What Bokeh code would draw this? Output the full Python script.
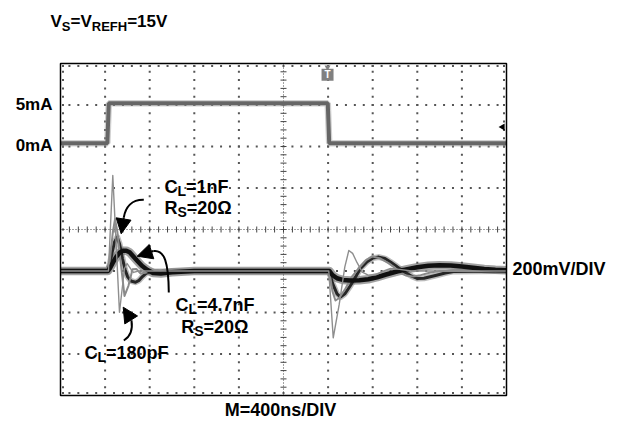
import numpy as np
from bokeh.plotting import figure
from bokeh.models import Range1d, Label, Arrow, NormalHead
from bokeh.embed import file_html
from bokeh.resources import INLINE

# ---------------- data ----------------
# time in ns (400 ns/div, 10 div), output voltage in mV relative to its settled level (200 mV/div)
cur_t = [0, 420, 433, 2397, 2410, 4000]
cur_ma = [0.4, 0.4, 5.2, 5.2, 0.4, 0.4]

# C_L = 180 pF (thin, light trace)
a_t = [0, 430, 469, 529, 574, 598, 630, 655, 700, 2400, 2406, 2446, 2500, 2550, 2586, 2620,
       2660, 2706, 2760, 2830, 2900, 2960, 3040, 3150, 4000]
a_mv = [0, 0, 460, -199, 12, 36, 10, -7, 0, 0, 0, -322, -160, 20, 99, 85,
        40, -5, -20, -18, 0, 12, 8, 0, 0]

# intermediate trace
d_t = [0, 430, 448, 470, 489, 510, 540, 574, 610, 646, 680, 718, 760, 820, 2400,
       2410, 2440, 2466, 2500, 2556, 2610, 2673, 2740, 2798, 2870, 2942, 3000, 3049, 3100,
       3157, 3230, 3318, 3400, 4000]
d_mv = [0, 0, 80, 190, 250, 190, 40, -120, -70, 8, 10, -12, -8, 0, 0,
        0, -100, -142, -130, -84, -30, 12, 52, 70, 60, 38, 15, -10, -22,
        -27, -20, -7, 0, 0]

# C_L = 1 nF, R_S = 20 ohm
b_t = [0, 428, 445, 465, 485, 509, 530, 556, 580, 601, 630, 673, 705, 735, 770, 807, 2400,
       2408, 2440, 2480, 2511, 2550, 2601, 2650, 2691, 2750, 2800, 2855, 2910, 2960, 3004,
       3050, 3094, 3150, 3199, 3260, 3363, 3450, 3525, 4000]
b_mv = [0, 0, 40, 95, 140, 163, 130, 60, 5, -27, -48, -54, -45, -27, -10, -2, 0,
        0, -60, -110, -126, -110, -70, -25, 12, 45, 62, 67, 60, 43, 27,
        8, -7, -25, -36, -35, -22, -10, -2, 0]

# C_L = 4.7 nF, R_S = 20 ohm
c_t = [0, 425, 445, 470, 500, 530, 560, 590, 620, 650, 690, 730, 780, 830, 900, 1000, 1200, 2400,
       2412, 2440, 2480, 2530, 2600, 2680, 2760, 2840, 2920, 3000, 3100, 3200, 3300, 3400,
       3500, 3600, 3700, 3800, 3900, 4000]
c_mv = [0, 0, 15, 40, 68, 88, 98, 98, 90, 72, 48, 25, 5, -10, -12, -6, 0, 0,
        0, -20, -35, -43, -46, -45, -40, -30, -17, -5, 8, 18, 25, 28,
        27, 22, 16, 10, 6, 4]

cur_ticks = [0, 5]
cur_tick_labels = ["0mA", "5mA"]

# scope settings
NS_PER_DIV = 400
MV_PER_DIV = 200
MA_PER_DIV = 5
N_DIV_X, N_DIV_Y = 10, 8
CUR_ZERO_DIV = 2     # 0 mA reference line (divisions above centre)
VOLT_ZERO_DIV = -1   # output reference line

# ---------------- geometry (canvas pixels) ----------------
FONT = "Liberation Sans"
CW, CH = 620, 419
GX0, GX1 = 60, 506      # graticule left/right
GY_C = 229              # graticule centre line
PX_DIV_X = (GX1 - GX0) / N_DIV_X
PX_DIV_Y = 41.5
NS_PER_PX = NS_PER_DIV / PX_DIV_X
TEXT_LIFT = 6.5         # correction for label baseline placement

x_lo = -GX0 * NS_PER_PX
x_hi = (CW - GX0) * NS_PER_PX
y_hi = GY_C / PX_DIV_Y
y_lo = -(CH - GY_C) / PX_DIV_Y

p = figure(frame_width=CW, frame_height=CH, min_border=0,
           x_range=Range1d(x_lo, x_hi), y_range=Range1d(y_lo, y_hi),
           x_axis_type=None, y_axis_type=None,
           output_backend="svg", toolbar_location=None,
           background_fill_color="white", border_fill_color="white")
p.outline_line_color = None
p.extra_y_ranges = {
    "current": Range1d((y_lo - CUR_ZERO_DIV) * MA_PER_DIV, (y_hi - CUR_ZERO_DIV) * MA_PER_DIV),
    "volt": Range1d((y_lo - VOLT_ZERO_DIV) * MV_PER_DIV, (y_hi - VOLT_ZERO_DIV) * MV_PER_DIV),
}

X_END = N_DIV_X * NS_PER_DIV
Y_HALF = N_DIV_Y / 2

# ---------------- graticule ----------------
minor_x = np.arange(0, X_END + 1, NS_PER_DIV / 5)
minor_y = np.arange(-Y_HALF, Y_HALF + 0.0001, 0.2)
ex = 2.5 * NS_PER_PX
ey = 2.5 / PX_DIV_Y
gx, gy = [], []
for yv in range(-4, 5):
    if yv == 0:
        continue
    yy = yv - np.sign(yv) * ey if abs(yv) == Y_HALF else yv
    for xv in minor_x:
        gx.append(min(max(xv, ex), X_END - ex)); gy.append(yy)
for k in range(0, N_DIV_X + 1):
    if k == N_DIV_X // 2:
        continue
    xv = k * NS_PER_DIV
    xx = ex if k == 0 else (X_END - ex if k == N_DIV_X else xv)
    for yv in minor_y:
        gx.append(xx); gy.append(min(max(yv, -Y_HALF + ey), Y_HALF - ey))
p.scatter(gx, gy, marker="square", size=2, fill_color="#555555", line_color=None)

p.segment(x0=[0], y0=[0], x1=[X_END], y1=[0], line_color="#444444", line_width=1, line_dash="1 2")
p.segment(x0=[X_END / 2], y0=[-Y_HALF], x1=[X_END / 2], y1=[Y_HALF], line_color="#444444",
          line_width=1, line_dash="1 2")
p.scatter(minor_x, np.zeros_like(minor_x), marker="dash", angle=np.pi / 2, size=6,
          line_color="#444444", line_width=1)
p.scatter(np.full_like(minor_y, X_END / 2), minor_y, marker="dash", size=6,
          line_color="#444444", line_width=1)

# trigger markers
TRIG_NS = 2395
p.scatter([TRIG_NS], [3.91], marker="inverted_triangle", size=6, fill_color="#808080", line_color=None)
p.scatter([TRIG_NS], [3.73], marker="square", size=12, fill_color="#808080", line_color=None)
p.add_layout(Label(x=TRIG_NS, y=3.73, text="T", text_font=FONT, text_font_style="bold",
                   text_font_size="10px", text_color="white", text_align="center",
                   text_baseline="middle"))
p.scatter([3965], [2.47], marker="triangle", angle=np.pi / 2, size=7, fill_color="black",
          line_color=None)

# ---------------- traces ----------------
p.line(cur_t, cur_ma, y_range_name="current", line_color="#9a9a9a", line_width=6.5, line_alpha=0.45)
p.line(cur_t, cur_ma, y_range_name="current", line_color="#666666", line_width=4)

p.line(c_t, c_mv, y_range_name="volt", line_color="#555555", line_width=8.5, line_alpha=0.55, line_join="round")
p.line(b_t, b_mv, y_range_name="volt", line_color="#777777", line_width=6, line_alpha=0.5, line_join="round")
p.line(b_t, b_mv, y_range_name="volt", line_color="#262626", line_width=3, line_join="round")
p.line(d_t, d_mv, y_range_name="volt", line_color="#8a8a8a", line_width=2, line_join="round")
p.line(c_t, c_mv, y_range_name="volt", line_color="#101010", line_width=4.5, line_join="round")
p.line(a_t, a_mv, y_range_name="volt", line_color="#8e8e8e", line_width=1.4, line_join="round")

# graticule border
p.quad(left=[0], right=[X_END], bottom=[-Y_HALF], top=[Y_HALF], fill_color=None,
       line_color="black", line_width=1.5)

# ---------------- texts ----------------
W = {'V': 667, 'S': 667, '=': 584, 'R': 722, 'E': 667, 'F': 611, 'H': 722, '1': 556, '5': 556,
     'C': 722, 'L': 611, 'n': 611, '4': 556, '.': 278, '7': 556, '2': 556, '0': 556, '8': 556,
     'p': 611, 'Ω': 760}


def px_x(px):
    return (px - GX0) * NS_PER_PX


def px_y(py):
    return (GY_C - py) / PX_DIV_Y


def txt(text, x, y, size, align="left"):
    p.add_layout(Label(x=x, y=y + TEXT_LIFT / PX_DIV_Y, text=text, text_font=FONT,
                       text_font_style="bold", text_font_size=f"{size}px", text_color="black",
                       text_align=align, text_baseline="alphabetic"))


def rich(parts, x, y, size, sub_size, drop):
    off = 0.0
    for t, s in parts:
        fs = sub_size if s else size
        yy = y + (TEXT_LIFT - (drop if s else 0)) / PX_DIV_Y
        p.add_layout(Label(x=x, y=yy, x_offset=off, text=t,
                           text_font=FONT, text_font_style="bold", text_font_size=f"{fs}px",
                           text_color="black", text_align="left", text_baseline="alphabetic"))
        off += sum(W.get(ch, 600) for ch in t) / 1000.0 * fs


# current scale labels at the left of the graticule
for v, lab in zip(cur_ticks, cur_tick_labels):
    p.add_layout(Label(x=px_x(52), y=v, y_offset=-5.5 + TEXT_LIFT, text=lab, text_font=FONT,
                       text_font_style="bold", text_font_size="17px", text_color="black",
                       text_align="right", text_baseline="alphabetic", y_range_name="current"))

rich([("V", 0), ("S", 1), ("=V", 0), ("REFH", 1), ("=15V", 0)], px_x(50), px_y(27), 17, 13, 5)
rich([("C", 0), ("L", 1), ("=1nF", 0)], px_x(164), px_y(193.3), 18, 14, 4)
rich([("R", 0), ("S", 1), ("=20Ω", 0)], px_x(164), px_y(213.5), 18, 14, 4)
rich([("C", 0), ("L", 1), ("=4.7nF", 0)], px_x(175), px_y(310.7), 18, 14, 4)
rich([("R", 0), ("S", 1), ("=20Ω", 0)], px_x(180.7), px_y(333.3), 18, 14, 4)
rich([("C", 0), ("L", 1), ("=180pF", 0)], px_x(84), px_y(359), 18, 14, 4)

txt(f"{MV_PER_DIV}mV/DIV", px_x(512), px_y(275), 18)
txt(f"M={NS_PER_DIV}ns/DIV", px_x(280), px_y(416), 18, align="center")

# ---------------- arrows ----------------
arrows = [
    # (bezier start, cp0, cp1, end, head tip) in canvas pixels
    ((143.3, 199.3), (131, 199), (125, 207), (123.3, 217), (120.7, 233.3)),
    ((168.3, 292), (168, 262), (164, 249), (153, 250.5), (136.7, 255.7)),
    ((123.3, 340), (130, 336), (132.5, 330), (131, 320), (122.7, 306.7)),
]
for s0, c0, c1, e0, tip in arrows:
    p.bezier(x0=[px_x(s0[0])], y0=[px_y(s0[1])], x1=[px_x(e0[0])], y1=[px_y(e0[1])],
             cx0=[px_x(c0[0])], cy0=[px_y(c0[1])], cx1=[px_x(c1[0])], cy1=[px_y(c1[1])],
             line_color="black", line_width=2)
    p.add_layout(Arrow(x_start=px_x(e0[0]), y_start=px_y(e0[1]), x_end=px_x(tip[0]), y_end=px_y(tip[1]),
                       line_color="black", line_width=2,
                       end=NormalHead(size=15, fill_color="black", line_color="black", line_width=1)))

open("out.html", "w").write(file_html(p, INLINE))
